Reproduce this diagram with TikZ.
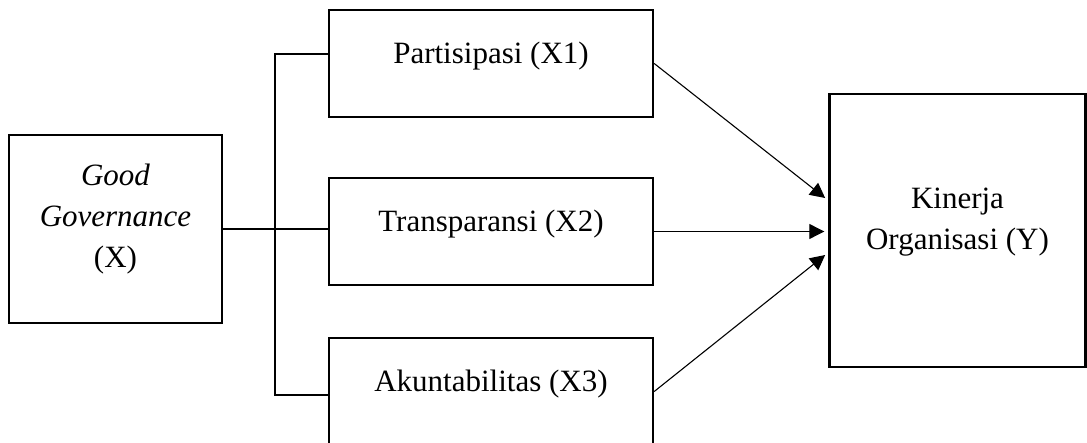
\documentclass[tikz,border=0pt]{standalone}
\usepackage{fontspec}
\setmainfont{Liberation Serif}
\usepackage{tikz}
\usetikzlibrary{arrows.meta, positioning, calc}
\definecolor{bordercolor}{RGB}{0,0,0}
\tikzset{
  base/.style={draw=bordercolor, line width=2.4pt, align=center,
               font=\fontsize{31}{41}\selectfont, inner sep=0pt,
               text height=0pt, text depth=0pt},
  varbox/.style = {base, minimum width=324pt, minimum height=107pt},
  xbox/.style   = {base, minimum width=213pt, minimum height=188pt, text height=78pt},
  ybox/.style   = {base, minimum width=256pt, minimum height=273pt, text height=39pt},
  link/.style   = {line width=1.1pt, color=bordercolor},
  arr/.style    = {-{Triangle[length=15pt, width=15pt]}, line width=1.1pt,
                   color=bordercolor, shorten >=4pt},
}

\begin{document}
\begin{tikzpicture}[x=1pt, y=-1pt]
  \useasboundingbox (0,0) rectangle (1087,443);
  \begin{scope}
  \clip (0,0) rectangle (1087,443);
  \node[xbox] (gg) at (115.5,229) {\textit{Good}\\\textit{Governance}\\(X)};
  \node[varbox] (part)  at (491,63.5)  {Partisipasi (X1)};
  \node[varbox] (trans) at (491,231.5) {Transparansi (X2)};
  \node[varbox] (akun)  at (491,391.5) {Akuntabilitas (X3)};
  \node[ybox] (kin) at (957.5,230.5) {Kinerja\\Organisasi (Y)};

  \coordinate (jt) at (275,54);
  \coordinate (jb) at (275,395);
  \draw[link] (gg.east) -- (gg.east -| trans.west);
  \draw[link] (jt -| part.west) -- (jt) -- (jb) -- (jb -| akun.west);

  \draw[arr] (part.east) -- ([yshift=30pt]kin.west);
  \draw[arr] (trans.east) -- (trans.east -| kin.west);
  \draw[arr] (akun.east) -- ([yshift=-22pt]kin.west);
  \end{scope}
\end{tikzpicture}
\end{document}
